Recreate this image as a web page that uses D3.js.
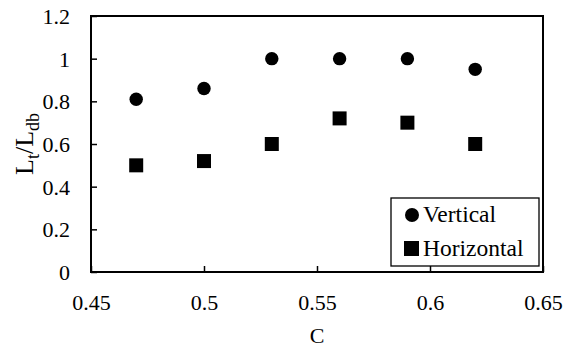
<html>
<head>
<script src="https://d3js.org/d3.v7.min.js"></script>
<style>
  body { margin: 0; background: #fff; }
  svg text { font-family: "Liberation Serif", "Times New Roman", serif; fill: #000; }
</style>
</head>
<body>
<script>
// values
var cValues = [0.47, 0.50, 0.53, 0.56, 0.59, 0.62];
var vertical = [0.81, 0.86, 1.0, 1.0, 1.0, 0.95];
var horizontal = [0.50, 0.52, 0.60, 0.72, 0.70, 0.60];
var xTicks = [0.45, 0.5, 0.55, 0.6, 0.65];
var yTicks = [0, 0.2, 0.4, 0.6, 0.8, 1, 1.2];
var seriesNames = ["Vertical", "Horizontal"];

var W = 574, H = 347;
var margin = {top: 16, right: 31, bottom: 75, left: 91},
    width = W - margin.left - margin.right,
    height = H - margin.top - margin.bottom;

var x = d3.scaleLinear().domain([0.45, 0.65]).range([0, width]);
var y = d3.scaleLinear().domain([0, 1.2]).range([height, 0]);

var svg = d3.select("body").append("svg")
    .attr("width", W)
    .attr("height", H)
    .attr("font-family", "Liberation Serif, serif");

var g = svg.append("g")
    .attr("transform", "translate(" + margin.left + "," + margin.top + ")");

// plot border
g.append("rect")
    .attr("width", width)
    .attr("height", height)
    .attr("fill", "none")
    .attr("stroke", "#000")
    .attr("stroke-width", 2);

// x axis, ticks pointing inward
var xAxis = g.append("g")
    .attr("transform", "translate(0," + height + ")")
    .call(d3.axisBottom(x).tickValues(xTicks).tickSize(-6)
        .tickFormat(function(d) { return String(+d.toFixed(2)); }));
xAxis.attr("font-family", null);
xAxis.select(".domain").remove();
xAxis.selectAll("line").attr("stroke-width", 1.5);
xAxis.selectAll("text").attr("font-size", 22).attr("dy", 0).attr("y", 38);

// y axis
var yAxis = g.append("g")
    .call(d3.axisLeft(y).tickValues(yTicks).tickSize(-6).tickPadding(21)
        .tickFormat(function(d) { return String(+d.toFixed(1)); }));
yAxis.attr("font-family", null);
yAxis.select(".domain").remove();
yAxis.selectAll("line").attr("stroke-width", 1.5);
yAxis.selectAll("text").attr("font-size", 22).attr("dy", "0.34em");

// points
g.selectAll(".vert").data(cValues).enter().append("circle")
    .attr("class", "vert")
    .attr("cx", function(d) { return x(d); })
    .attr("cy", function(d, i) { return y(vertical[i]); })
    .attr("r", 6.7);

var sq = 14;
g.selectAll(".horz").data(cValues).enter().append("rect")
    .attr("class", "horz")
    .attr("x", function(d) { return x(d) - sq / 2; })
    .attr("y", function(d, i) { return y(horizontal[i]) - sq / 2; })
    .attr("width", sq)
    .attr("height", sq);

// axis titles
svg.append("text")
    .attr("x", margin.left + width / 2)
    .attr("y", 343)
    .attr("text-anchor", "middle")
    .attr("font-size", 22)
    .text("C");

var yt = svg.append("text")
    .attr("transform", "translate(33," + (margin.top + height / 2) + ") rotate(-90)")
    .attr("text-anchor", "middle")
    .attr("font-size", 26);
yt.append("tspan").text("L");
yt.append("tspan").attr("font-size", 18).attr("dy", 6).text("t");
yt.append("tspan").attr("dy", -6).text("/L");
yt.append("tspan").attr("font-size", 18).attr("dy", 6).text("db");

// legend
var lg = svg.append("g").attr("transform", "translate(391,198)");
lg.append("rect")
    .attr("width", 148)
    .attr("height", 68)
    .attr("fill", "#fff")
    .attr("stroke", "#000")
    .attr("stroke-width", 1.3);
lg.append("circle").attr("cx", 21).attr("cy", 17).attr("r", 7);
lg.append("rect").attr("x", 13).attr("y", 43).attr("width", 15).attr("height", 15);
lg.selectAll(".lt").data(seriesNames).enter().append("text")
    .attr("class", "lt")
    .attr("x", 32)
    .attr("y", function(d, i) { return 24 + i * 34; })
    .attr("font-size", 23.5)
    .text(function(d) { return d; });
</script>
</body>
</html>
